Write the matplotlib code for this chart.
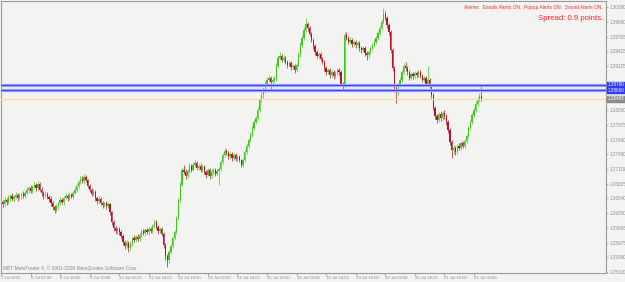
import matplotlib
matplotlib.use("Agg")
import matplotlib.pyplot as plt

plt.rcParams['font.family'] = ['Liberation Sans', 'DejaVu Sans']

closes = [
1.2643,1.2651,1.2647,1.2655,1.2659,1.2653,1.2657,1.2661,1.2655,1.2659,
1.2663,1.2659,1.2665,1.2671,1.2675,1.2669,1.2677,1.2681,1.2675,1.2682,
1.2671,1.2665,1.2659,1.2663,1.2657,1.2653,1.2645,1.2637,1.2631,1.2639,
1.2645,1.2651,1.2647,1.2655,1.2659,1.2655,1.2661,1.2657,1.2665,1.2671,
1.2679,1.2686,1.2692,1.2688,1.2696,1.2690,1.2679,1.2671,1.2663,1.2667,
1.2655,1.2649,1.2653,1.2645,1.2641,1.2645,1.2639,1.2643,1.2627,1.2608,
1.2596,1.2590,1.2594,1.2588,1.2581,1.2569,1.2561,1.2567,1.2557,1.2565,
1.2577,1.2573,1.2579,1.2575,1.2583,1.2590,1.2586,1.2592,1.2588,1.2594,
1.2590,1.2600,1.2608,1.2598,1.2590,1.2594,1.2584,1.2563,1.2541,1.2534,
1.2549,1.2561,1.2577,1.2588,1.2616,1.2651,1.2681,1.2710,1.2706,1.2698,
1.2708,1.2718,1.2710,1.2720,1.2723,1.2714,1.2718,1.2710,1.2716,1.2706,
1.2700,1.2710,1.2698,1.2706,1.2710,1.2702,1.2708,1.2712,1.2725,1.2739,
1.2747,1.2743,1.2737,1.2741,1.2733,1.2739,1.2731,1.2735,1.2729,1.2720,
1.2729,1.2745,1.2757,1.2768,1.2778,1.2792,1.2803,1.2811,1.2827,1.2847,
1.2856,1.2866,1.2878,1.2886,1.2890,1.2882,1.2886,1.2888,1.2913,1.2929,
1.2933,1.2925,1.2929,1.2921,1.2915,1.2919,1.2911,1.2913,1.2905,1.2915,
1.2935,1.2954,1.2968,1.2983,1.2995,1.2987,1.2976,1.2964,1.2952,1.2940,
1.2933,1.2936,1.2927,1.2921,1.2909,1.2901,1.2905,1.2895,1.2901,1.2893,
1.2899,1.2905,1.2901,1.2878,1.2874,1.2974,1.2968,1.2960,1.2964,1.2956,
1.2960,1.2954,1.2958,1.2948,1.2944,1.2948,1.2938,1.2934,1.2940,1.2948,
1.2954,1.2960,1.2968,1.2977,1.2987,1.2999,1.3015,1.3007,1.2993,1.2979,
1.2944,1.2909,1.2870,1.2862,1.2876,1.2886,1.2901,1.2913,1.2909,1.2901,
1.2890,1.2897,1.2893,1.2899,1.2895,1.2901,1.2893,1.2886,1.2890,1.2878,
1.2886,1.2874,1.2856,1.2831,1.2815,1.2807,1.2819,1.2811,1.2821,1.2815,
1.2803,1.2788,1.2764,1.2749,1.2753,1.2745,1.2757,1.2753,1.2762,1.2757,
1.2766,1.2776,1.2792,1.2803,1.2817,1.2827,1.2839,1.2847,1.2854,1.2848,
]

opens = [
1.2647,1.2643,1.2651,1.2647,1.2655,1.2659,1.2653,1.2657,1.2661,1.2655,
1.2659,1.2663,1.2659,1.2665,1.2671,1.2675,1.2669,1.2677,1.2681,1.2675,
1.2682,1.2671,1.2665,1.2659,1.2663,1.2657,1.2653,1.2645,1.2637,1.2631,
1.2639,1.2645,1.2651,1.2647,1.2655,1.2659,1.2655,1.2661,1.2657,1.2665,
1.2671,1.2679,1.2686,1.2692,1.2688,1.2696,1.2690,1.2679,1.2671,1.2663,
1.2667,1.2655,1.2649,1.2653,1.2645,1.2641,1.2645,1.2639,1.2643,1.2627,
1.2608,1.2596,1.2590,1.2594,1.2588,1.2581,1.2569,1.2561,1.2567,1.2557,
1.2565,1.2577,1.2573,1.2579,1.2575,1.2583,1.2590,1.2586,1.2592,1.2588,
1.2594,1.2590,1.2600,1.2608,1.2598,1.2590,1.2594,1.2584,1.2563,1.2541,
1.2534,1.2549,1.2561,1.2577,1.2588,1.2616,1.2651,1.2681,1.2710,1.2706,
1.2698,1.2708,1.2718,1.2710,1.2720,1.2723,1.2714,1.2718,1.2710,1.2716,
1.2706,1.2700,1.2710,1.2698,1.2706,1.2710,1.2702,1.2708,1.2712,1.2725,
1.2739,1.2747,1.2743,1.2737,1.2741,1.2733,1.2739,1.2731,1.2735,1.2729,
1.2720,1.2729,1.2745,1.2757,1.2768,1.2778,1.2792,1.2803,1.2811,1.2827,
1.2847,1.2856,1.2866,1.2878,1.2886,1.2890,1.2882,1.2886,1.2888,1.2913,
1.2929,1.2933,1.2925,1.2929,1.2921,1.2915,1.2919,1.2911,1.2913,1.2905,
1.2915,1.2935,1.2954,1.2968,1.2983,1.2995,1.2987,1.2976,1.2964,1.2952,
1.2940,1.2933,1.2936,1.2927,1.2921,1.2909,1.2901,1.2905,1.2895,1.2901,
1.2893,1.2899,1.2905,1.2901,1.2878,1.2874,1.2974,1.2968,1.2960,1.2964,
1.2956,1.2960,1.2954,1.2958,1.2948,1.2944,1.2948,1.2938,1.2934,1.2940,
1.2948,1.2954,1.2960,1.2968,1.2977,1.2987,1.2999,1.3015,1.3007,1.2993,
1.2979,1.2944,1.2909,1.2870,1.2862,1.2876,1.2886,1.2901,1.2913,1.2909,
1.2901,1.2890,1.2897,1.2893,1.2899,1.2895,1.2901,1.2893,1.2886,1.2890,
1.2878,1.2886,1.2874,1.2856,1.2831,1.2815,1.2807,1.2819,1.2811,1.2821,
1.2815,1.2803,1.2788,1.2764,1.2749,1.2753,1.2745,1.2757,1.2753,1.2762,
1.2757,1.2766,1.2776,1.2792,1.2803,1.2817,1.2827,1.2839,1.2847,1.2854,
]

highs = [
1.2651,1.2657,1.2654,1.2660,1.2663,1.2665,1.2660,1.2666,1.2665,1.2665,
1.2666,1.2668,1.2669,1.2677,1.2678,1.2680,1.2681,1.2687,1.2684,1.2688,
1.2686,1.2676,1.2668,1.2668,1.2667,1.2660,1.2658,1.2649,1.2642,1.2644,
1.2648,1.2656,1.2655,1.2659,1.2665,1.2662,1.2666,1.2664,1.2669,1.2676,
1.2682,1.2691,1.2697,1.2698,1.2702,1.2700,1.2693,1.2683,1.2674,1.2672,
1.2671,1.2658,1.2658,1.2656,1.2650,1.2648,1.2650,1.2647,1.2646,1.2630,
1.2612,1.2601,1.2599,1.2598,1.2592,1.2585,1.2573,1.2572,1.2570,1.2570,
1.2581,1.2582,1.2583,1.2584,1.2587,1.2595,1.2594,1.2596,1.2597,1.2598,
1.2599,1.2605,1.2614,1.2612,1.2602,1.2598,1.2598,1.2588,1.2566,1.2545,
1.2553,1.2565,1.2581,1.2592,1.2620,1.2655,1.2686,1.2716,1.2719,1.2711,
1.2712,1.2723,1.2722,1.2725,1.2729,1.2727,1.2722,1.2723,1.2720,1.2719,
1.2710,1.2714,1.2713,1.2711,1.2714,1.2713,1.2712,1.2716,1.2729,1.2743,
1.2752,1.2751,1.2747,1.2745,1.2744,1.2743,1.2742,1.2739,1.2739,1.2732,
1.2733,1.2749,1.2762,1.2772,1.2783,1.2797,1.2808,1.2816,1.2832,1.2851,
1.2862,1.2871,1.2883,1.2892,1.2896,1.2894,1.2891,1.2893,1.2918,1.2935,
1.2940,1.2937,1.2934,1.2932,1.2925,1.2923,1.2922,1.2917,1.2916,1.2919,
1.2940,1.2959,1.2973,1.2989,1.3007,1.2999,1.2991,1.2980,1.2968,1.2956,
1.2945,1.2941,1.2940,1.2931,1.2925,1.2913,1.2910,1.2909,1.2905,1.2905,
1.2903,1.2910,1.2909,1.2905,1.2882,1.2979,1.2980,1.2972,1.2969,1.2967,
1.2964,1.2964,1.2962,1.2962,1.2952,1.2953,1.2952,1.2942,1.2944,1.2952,
1.2958,1.2965,1.2972,1.2982,1.2992,1.3004,1.3026,1.3020,1.3011,1.2997,
1.2983,1.2948,1.2913,1.2874,1.2880,1.2891,1.2905,1.2918,1.2920,1.2913,
1.2905,1.2901,1.2902,1.2903,1.2904,1.2905,1.2906,1.2897,1.2894,1.2894,
1.2913,1.2890,1.2878,1.2860,1.2835,1.2819,1.2823,1.2824,1.2825,1.2826,
1.2819,1.2807,1.2792,1.2768,1.2758,1.2757,1.2761,1.2762,1.2766,1.2767,
1.2770,1.2780,1.2796,1.2808,1.2821,1.2832,1.2844,1.2852,1.2860,1.2874,
]

lows = [
1.2638,1.2640,1.2641,1.2643,1.2650,1.2650,1.2647,1.2653,1.2650,1.2652,
1.2653,1.2655,1.2654,1.2662,1.2665,1.2665,1.2664,1.2674,1.2669,1.2671,
1.2668,1.2659,1.2653,1.2655,1.2652,1.2647,1.2640,1.2632,1.2626,1.2627,
1.2634,1.2642,1.2643,1.2641,1.2652,1.2650,1.2651,1.2654,1.2652,1.2662,
1.2667,1.2675,1.2682,1.2684,1.2683,1.2686,1.2675,1.2666,1.2659,1.2658,
1.2650,1.2644,1.2645,1.2641,1.2636,1.2637,1.2634,1.2635,1.2622,1.2603,
1.2590,1.2585,1.2584,1.2582,1.2576,1.2563,1.2555,1.2557,1.2550,1.2553,
1.2561,1.2568,1.2569,1.2571,1.2571,1.2579,1.2582,1.2581,1.2584,1.2583,
1.2586,1.2587,1.2596,1.2594,1.2585,1.2586,1.2580,1.2558,1.2533,1.2520,
1.2528,1.2545,1.2557,1.2572,1.2585,1.2612,1.2647,1.2678,1.2701,1.2693,
1.2694,1.2704,1.2705,1.2707,1.2716,1.2709,1.2710,1.2706,1.2705,1.2701,
1.2694,1.2697,1.2693,1.2694,1.2702,1.2697,1.2698,1.2681,1.2708,1.2721,
1.2735,1.2739,1.2732,1.2733,1.2728,1.2730,1.2727,1.2727,1.2725,1.2715,
1.2716,1.2726,1.2741,1.2753,1.2764,1.2774,1.2788,1.2799,1.2807,1.2823,
1.2842,1.2851,1.2861,1.2873,1.2881,1.2868,1.2877,1.2881,1.2884,1.2909,
1.2925,1.2920,1.2921,1.2916,1.2910,1.2911,1.2906,1.2907,1.2899,1.2901,
1.2912,1.2931,1.2950,1.2964,1.2979,1.2982,1.2971,1.2959,1.2947,1.2935,
1.2928,1.2929,1.2922,1.2916,1.2904,1.2896,1.2897,1.2890,1.2891,1.2888,
1.2889,1.2895,1.2896,1.2873,1.2866,1.2870,1.2963,1.2955,1.2956,1.2951,
1.2952,1.2949,1.2950,1.2943,1.2939,1.2940,1.2933,1.2925,1.2929,1.2936,
1.2944,1.2950,1.2956,1.2964,1.2973,1.2983,1.2995,1.3002,1.2988,1.2974,
1.2939,1.2904,1.2863,1.2841,1.2857,1.2872,1.2882,1.2897,1.2904,1.2896,
1.2885,1.2886,1.2888,1.2889,1.2891,1.2890,1.2889,1.2881,1.2882,1.2873,
1.2874,1.2869,1.2851,1.2826,1.2810,1.2801,1.2803,1.2806,1.2807,1.2810,
1.2798,1.2782,1.2758,1.2733,1.2741,1.2738,1.2741,1.2748,1.2749,1.2752,
1.2753,1.2762,1.2772,1.2788,1.2799,1.2813,1.2823,1.2835,1.2843,1.2844,
]

time_labels = ["7 Jul 2010", "8 Jul 02:00", "8 Jul 18:00", "9 Jul 10:00",
               "12 Jul 02:00", "12 Jul 18:00", "13 Jul 10:00", "14 Jul 02:00",
               "14 Jul 18:00", "15 Jul 10:00", "16 Jul 02:00", "16 Jul 18:00",
               "19 Jul 10:00", "20 Jul 02:00", "20 Jul 18:00", "21 Jul 10:00",
               "22 Jul 02:00"]
time_label_bars = [-1, 15, 31, 47, 63, 79, 95, 111, 127, 143, 159, 175,
                   191, 207, 223, 239, 255]

price_ticks = [1.30280, 1.29990, 1.29705, 1.29415, 1.29125, 1.28260, 1.27975,
               1.27690, 1.27400, 1.27115, 1.26825, 1.26540, 1.26250, 1.25965,
               1.25675, 1.25390, 1.25100]
price_tick_labels = ["%.5f" % v for v in price_ticks]

hlines_blue = [1.28760, 1.28660]
bid_line = 1.28485

BG = "#f3f4f1"
GREEN = "#3ec81c"
RED = "#b8102a"
FS = 3.3

fig = plt.figure(figsize=(6.25, 2.82), dpi=100, facecolor=BG)
ax = fig.add_axes([1/625, 9/282, 605/625, 272/282], facecolor=BG)

idx = list(range(len(closes)))
cols = [GREEN if c >= o else RED for o, c in zip(opens, closes)]
ax.vlines(idx, lows, highs, colors=cols, linewidth=0.7, alpha=0.7)
heights = [max(abs(c - o), 0.00008) for o, c in zip(opens, closes)]
bottoms = [min(o, c) for o, c in zip(opens, closes)]
ax.bar(idx, heights, bottom=bottoms, width=0.7, color=cols, linewidth=0)

for v in hlines_blue:
    ax.axhline(v, color="#aab0ff", linewidth=2.4, zorder=3)
    ax.axhline(v, color="#3a44f0", linewidth=0.9, zorder=4)
ax.axhline(bid_line, color="#f4df8c", linewidth=0.9, zorder=3)

ax.set_xlim(-0.5, 326.5)
ax.set_ylim(1.25083, 1.30400)

for s in ax.spines.values():
    s.set_color("#9a9a9a")
    s.set_linewidth(0.8)

ax.yaxis.tick_right()
ax.set_yticks(price_ticks)
ax.set_yticklabels(price_tick_labels)
ax.tick_params(axis="y", labelsize=FS, colors="#8a8a8a", length=1.5, width=0.5, pad=1.0)

ax.set_xticks(time_label_bars)
ax.set_xticklabels(time_labels)
ax.tick_params(axis="x", labelsize=3.1, colors="#8a8a8a", length=2.0, width=0.5, pad=0.4)
for lab in ax.get_xticklabels():
    lab.set_horizontalalignment("left")
for t in ax.xaxis.get_ticklines():
    t.set_markeredgecolor("#9a7ab0")

ytr = ax.get_yaxis_transform()
for v in hlines_blue:
    ax.text(1.003, v, "%.5f" % v, transform=ytr, fontsize=FS, color="white",
            va="center", ha="left", clip_on=False, zorder=6,
            bbox=dict(boxstyle="square,pad=0.12", fc="#2e3cf0", ec="#2e3cf0"))
ax.text(1.003, bid_line, "%.5f" % bid_line, transform=ytr, fontsize=FS, color="white",
        va="center", ha="left", clip_on=False, zorder=6,
        bbox=dict(boxstyle="square,pad=0.12", fc="#8c8c8c", ec="#8c8c8c"))

fig.text(603/625, 1 - 7/282, "Alerter:  Emails Alerts ON.  Popup Alerts ON.  Sound Alerts ON.",
         fontsize=3.5, color="#ff2a2a", ha="right", va="center")
fig.text(603/625, 1 - 18/282, "Spread: 0.9 points.", fontsize=5.6, color="#ff2020",
         ha="right", va="center")
fig.text(3/625, 1 - 268/282, "MBT MetaTrader 4, \u00a9 2001-2008 MetaQuotes Software Corp.",
         fontsize=3.5, color="#8a8a8a", ha="left", va="center")

fig.savefig("out.png", dpi=100, facecolor=BG)
